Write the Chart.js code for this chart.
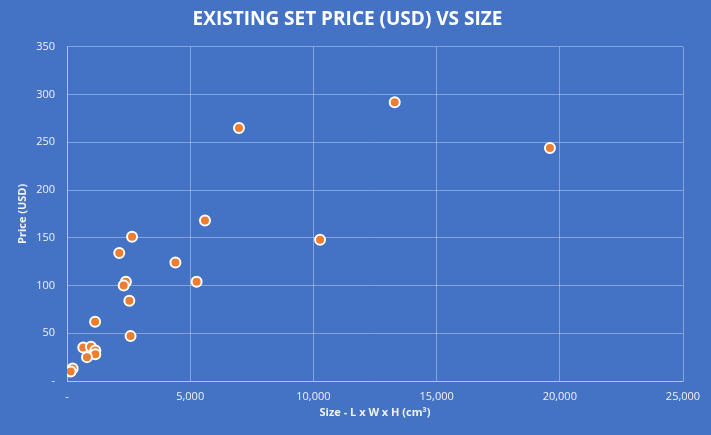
<!DOCTYPE html>
<html>
<head>
<meta charset="utf-8">
<script src="https://cdn.jsdelivr.net/npm/chart.js@4"></script>
<style>
    html, body { margin: 0; padding: 0; background: #4472c4; }
    #box { width: 711px; height: 435px; }
</style>
</head>
<body>
<div id="box"><canvas id="graficoSets"></canvas></div>
<script>
// set size (cm3) and price (USD)
const tamanhos = [13300, 6980, 19600, 5600, 10270, 2640, 2120, 4400, 5260, 2390, 2300, 2530, 1140, 2580, 660, 970, 1150, 1150, 810, 230, 150];
const precos = [292, 265, 244, 168, 148, 151, 134, 124, 104, 104, 100, 84, 62, 47, 35, 36, 32, 28, 25, 13, 10];

const ticksX = [0, 5000, 10000, 15000, 20000, 25000];
const ticksY = [0, 50, 100, 150, 200, 250, 300, 350];

const fonte = "'Liberation Sans Narrow', 'Open Sans', sans-serif";
const corTexto = "#f2f2f2";
const corGrade = "rgba(255,255,255,0.35)";

const pontos = tamanhos.map((t, i) => ({ x: t, y: precos[i] }));

const ctx = document.getElementById("graficoSets");

new Chart(ctx, {
    type: "scatter",
    data: {
        datasets: [{
            label: "Sets",
            data: pontos,
            backgroundColor: "#ed7d31",
            borderColor: "#ffffff",
            borderWidth: 2,
            pointRadius: 5,
            pointHoverRadius: 5
        }]
    },
    options: {
        responsive: true,
        maintainAspectRatio: false,
        animation: false,
        layout: {
            padding: { top: 0, right: 28, bottom: 12, left: 12 }
        },
        plugins: {
            legend: { display: false },
            tooltip: { enabled: false },
            title: {
                display: true,
                text: "EXISTING SET PRICE (USD) VS SIZE",
                color: "#ffffff",
                font: { family: fonte, size: 19, weight: "bold" },
                padding: { top: 8, bottom: 16 }
            }
        },
        scales: {
            x: {
                type: "linear",
                min: 0,
                max: 25000,
                afterBuildTicks: scale => {
                    scale.ticks = ticksX.map(v => ({ value: v }));
                },
                afterFit: scale => { scale.height = 42; },
                ticks: {
                    color: corTexto,
                    font: { family: fonte, size: 11 },
                    padding: 9,
                    maxRotation: 0,
                    callback: value => value === 0 ? "-" : value.toLocaleString("en-US")
                },
                grid: { color: corGrade, drawTicks: false },
                border: { color: corGrade },
                title: {
                    display: true,
                    text: "Size - L x W x H (cm³)",
                    color: corTexto,
                    font: { family: fonte, size: 11, weight: "bold" },
                    padding: { top: 2 }
                }
            },
            y: {
                min: 0,
                max: 350,
                afterBuildTicks: scale => {
                    scale.ticks = ticksY.map(v => ({ value: v }));
                },
                afterFit: scale => { scale.width = 55; },
                ticks: {
                    color: corTexto,
                    font: { family: fonte, size: 11 },
                    padding: 12,
                    callback: value => value === 0 ? "-" : value
                },
                grid: { color: corGrade, drawTicks: false },
                border: { color: corGrade },
                title: {
                    display: true,
                    text: "Price (USD)",
                    color: corTexto,
                    font: { family: fonte, size: 11, weight: "bold" },
                    padding: { bottom: 4 }
                }
            }
        }
    }
});
</script>
</body>
</html>
